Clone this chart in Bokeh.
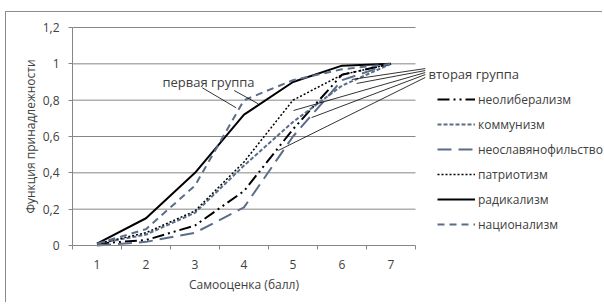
import math
from bokeh.plotting import figure
from bokeh.models import Range1d, FixedTicker, Legend, LegendItem, Label
from bokeh.embed import file_html
from bokeh.resources import INLINE

# ---------------- data ----------------
scores = [1, 2, 3, 4, 5, 6, 7]
neoliberalism = [0.01, 0.03, 0.11, 0.30, 0.64, 0.94, 1.00]
communism = [0.01, 0.06, 0.18, 0.44, 0.68, 0.88, 1.00]
neoslavophilism = [0.00, 0.02, 0.07, 0.21, 0.60, 0.91, 1.00]
patriotism = [0.01, 0.07, 0.19, 0.46, 0.80, 0.94, 1.00]
radicalism = [0.01, 0.15, 0.40, 0.72, 0.90, 0.99, 1.00]
nationalism = [0.01, 0.09, 0.33, 0.80, 0.91, 0.97, 1.00]

series_names = ["неолиберализм", "коммунизм", "неославянофильство",
                "патриотизм", "радикализм", "национализм"]

y_ticks = [0.0, 0.2, 0.4, 0.6, 0.8, 1.0, 1.2]
y_tick_labels = ["0", "0,2", "0,4", "0,6", "0,8", "1", "1,2"]

x_title = "Самооценка (балл)"
y_title = "Функция принадлежности"
group1_text = "первая группа"
group2_text = "вторая группа"

# annotation leader lines (data coordinates)
g1_x0 = [3.15, 3.80]
g1_y0 = [0.868, 0.853]
g1_x1 = [3.84, 4.29]
g1_y1 = [0.758, 0.780]
g2_x0 = [6.20, 6.30, 5.01, 5.38, 4.70]
g2_y0 = [0.914, 0.892, 0.743, 0.704, 0.523]
g2_x1 = [7.70, 7.70, 7.70, 7.70, 7.70]
g2_y1 = [0.974, 0.963, 0.952, 0.941, 0.925]

# ---------------- layout (pixels) ----------------
ORIG_X, ORIG_Y = 6, 12          # canvas origin on the page (after margin + border)
W, H = 597, 291
AX_LEFT_PX, AX_RIGHT_PX = 72, 415   # x = 0.5 .. 7.5
AX_TOP_PX, AX_BOT_PX = 27, 245      # y = 1.2 .. 0

x_lo_axis = min(scores) - 0.5
x_hi_axis = max(scores) + 0.5
y_top_axis = max(y_ticks)
px_x = (AX_RIGHT_PX - AX_LEFT_PX) / (x_hi_axis - x_lo_axis)
px_y = (AX_BOT_PX - AX_TOP_PX) / y_top_axis
x_start = x_lo_axis - (AX_LEFT_PX - ORIG_X) / px_x
x_end = x_start + W / px_x
y_end = y_top_axis + (AX_TOP_PX - ORIG_Y) / px_y
y_start = y_end - H / px_y

def dx(page_x):
    return x_start + (page_x - ORIG_X) / px_x

def dy(page_y):
    return y_end - (page_y - ORIG_Y) / px_y

FONT = "Open Sans"
TXT = "#404040"
GRID = "#868686"
SLATE = "#5b6d88"

p = figure(width=W, height=H, x_range=Range1d(x_start, x_end), y_range=Range1d(y_start, y_end),
           output_backend="svg", toolbar_location=None,
           min_border_left=0, min_border_right=0, min_border_top=0, min_border_bottom=0)
p.outline_line_color = None
p.xgrid.visible = False
p.ygrid.visible = False
p.styles = {"border-top": "1px solid #8c8c8c", "border-left": "1px solid #8c8c8c",
            "margin-left": "5px", "margin-top": "11px"}

# horizontal gridlines limited to the category span
grid_y = [t for t in y_ticks if t > 0]
p.segment(x0=[x_lo_axis] * len(grid_y), x1=[x_hi_axis] * len(grid_y), y0=grid_y, y1=grid_y,
          line_color=GRID, line_width=1)

# x axis (fixed inside the full-canvas frame)
xa = p.xaxis[0]
xa.fixed_location = 0
xa.ticker = FixedTicker(ticks=scores, minor_ticks=[s - 0.5 for s in scores] + [max(scores) + 0.5])
xa.bounds = (x_lo_axis, x_hi_axis)
xa.major_tick_out = 0
xa.major_tick_in = 0
xa.minor_tick_out = 4
xa.minor_tick_in = 0
xa.minor_tick_line_color = GRID
xa.axis_line_color = GRID
xa.major_label_standoff = 10
xa.major_label_text_font = FONT
xa.major_label_text_font_size = "12px"
xa.major_label_text_color = TXT

# y axis
ya = p.yaxis[0]
ya.fixed_location = x_lo_axis
ya.ticker = FixedTicker(ticks=y_ticks, minor_ticks=[])
ya.major_label_overrides = {t: l for t, l in zip(y_ticks, y_tick_labels)}
ya.bounds = (0, y_top_axis)
ya.major_tick_out = 4
ya.major_tick_in = 0
ya.major_tick_line_color = GRID
ya.axis_line_color = GRID
ya.major_label_standoff = 9
ya.major_label_text_font = FONT
ya.major_label_text_font_size = "12px"
ya.major_label_text_color = TXT

# series
styles = [
    (neoliberalism, "black", "12 4 2 4 2 4", 2),
    (communism, SLATE, "4 2", 2),
    (neoslavophilism, SLATE, "14 7", 2),
    (patriotism, "black", "2 2", 1.5),
    (radicalism, "black", "solid", 2),
    (nationalism, SLATE, "7 5", 2),
]
renderers = []
for vals, col, dash, lw in styles:
    r = p.line(scores, vals, line_color=col, line_dash=dash, line_width=lw)
    renderers.append(r)

# leader lines
p.segment(x0=g1_x0, y0=g1_y0, x1=g1_x1, y1=g1_y1, line_color="black", line_width=0.8)
p.segment(x0=g2_x0, y0=g2_y0, x1=g2_x1, y1=g2_y1, line_color="black", line_width=0.8)

# texts
p.add_layout(Label(x=dx(162), y=dy(81), text=group1_text, text_baseline="middle",
                   text_font=FONT, text_font_size="13px", text_color=TXT))
p.add_layout(Label(x=dx(428), y=dy(73), text=group2_text, text_baseline="middle",
                   text_font=FONT, text_font_size="13px", text_color=TXT))
p.add_layout(Label(x=(x_lo_axis + x_hi_axis) / 2, y=dy(284), text=x_title,
                   text_align="center", text_baseline="middle",
                   text_font=FONT, text_font_size="12px", text_color=TXT))
p.add_layout(Label(x=dx(30), y=y_top_axis / 2, text=y_title, angle=math.pi / 2,
                   text_align="center", text_baseline="middle",
                   text_font=FONT, text_font_size="12px", text_color=TXT))

legend = Legend(items=[LegendItem(label=n, renderers=[r]) for n, r in zip(series_names, renderers)],
                location=(437 - ORIG_X, ORIG_Y + H - 234), orientation="vertical",
                glyph_width=38, glyph_height=20, label_height=20, spacing=5,
                label_standoff=3, padding=0, margin=0,
                border_line_color=None, background_fill_alpha=0,
                label_text_font=FONT, label_text_font_size="12px", label_text_color=TXT)
p.add_layout(legend)

open("out.html", "w").write(file_html(p, INLINE))
